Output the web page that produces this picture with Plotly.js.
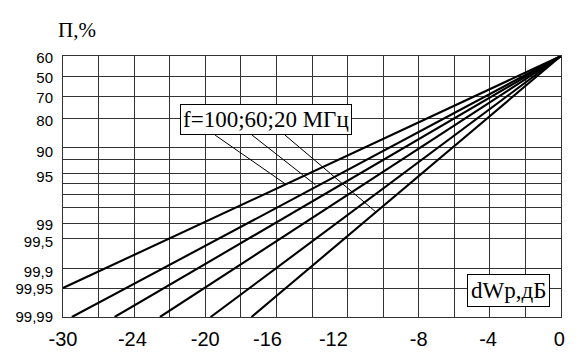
<!DOCTYPE html>
<html>
<head>
<meta charset="utf-8">
<script src="https://cdn.plot.ly/plotly-3.0.1.min.js"></script>
<style>html,body{margin:0;padding:0;background:#fff;}#chart{width:580px;height:364px;}</style>
</head>
<body>
<div id="chart"></div>
<script>
// X axis: grid divisions (units of the drawn scale), labelled ticks
const xGrid = [-28, -26, -24, -22, -20, -18, -16, -14, -12, -10, -8, -6, -4, -2, 0];
const xLabelPos = [-28, -24.1, -20.0, -16.5, -12.8, -8.0, -4.1, -0.1];
const xLabels = ["-30", "-24", "-20", "-16", "-12", "-8", "-4", "0"];

// Y axis: probability-paper scale positions (0 = bottom, 100 = top)
const yGridPos = [100, 92.3, 84.3, 76.2, 64.9, 60.5, 55.0, 51.0, 47.1, 42.0, 35.8, 30.1, 18.4, 11.1, 0];
const yLabelPos = [99.2, 91.6, 83.9, 75.3, 63.2, 53.6, 35.2, 29.0, 17.2, 10.7, 0.2];
const yLabels = ["60", "50", "70", "80", "90", "95", "99", "99,5", "99,9", "99,95", "99,99"];

// Six straight lines starting at (0, top) and fanning out to the left
const startX = 0, startY = 100;
const endX = [-28, -27.5, -25.1, -22.55, -19.7, -17.4];
const endY = [11.1, 0, 0, 0, 0, 0];

// Leader lines from the frequency label to the lines
const leadX0 = [-19.45, -17.37, -15.52];
const leadY0 = [69.7, 69.7, 69.7];
const leadX1 = [-15.5, -13.8, -10.4];
const leadY1 = [51.0, 50.6, 40.2];

const traces = [];
for (let i = 0; i < endX.length; i++) {
  traces.push({
    x: [startX, endX[i]], y: [startY, endY[i]],
    type: 'scatter', mode: 'lines',
    line: {color: '#000', width: 2.1},
    hoverinfo: 'skip', showlegend: false, cliponaxis: true
  });
}
for (let i = 0; i < leadX0.length; i++) {
  traces.push({
    x: [leadX0[i], leadX1[i]], y: [leadY0[i], leadY1[i]],
    xaxis: 'x2', yaxis: 'y2',
    type: 'scatter', mode: 'lines',
    line: {color: '#000', width: 1},
    hoverinfo: 'skip', showlegend: false
  });
}

const gridColor = '#333333';
const layout = {
  width: 580, height: 364,
  margin: {l: 63, r: 19, t: 56, b: 47, pad: 0},
  paper_bgcolor: '#fff', plot_bgcolor: '#fff',
  showlegend: false,
  xaxis: {
    range: [-28, 0], tickmode: 'array', tickvals: xGrid, showticklabels: false,
    showgrid: true, gridcolor: gridColor, gridwidth: 1, zeroline: false,
    showline: true, linecolor: gridColor, linewidth: 1, mirror: true, ticks: ''
  },
  xaxis2: {
    overlaying: 'x', anchor: 'y', side: 'bottom',
    range: [-28, 0], tickmode: 'array', tickvals: xLabelPos, ticktext: xLabels,
    showgrid: false, zeroline: false, showline: false, ticks: '',
    ticklabelstandoff: 8,
    tickfont: {family: '"Liberation Sans", Arial, sans-serif', size: 20, color: '#000'}
  },
  yaxis: {
    range: [0, 100], tickmode: 'array', tickvals: yGridPos, showticklabels: false,
    showgrid: true, gridcolor: gridColor, gridwidth: 1, zeroline: false,
    showline: true, linecolor: gridColor, linewidth: 1, mirror: true, ticks: ''
  },
  yaxis2: {
    overlaying: 'y', anchor: 'x', side: 'left',
    range: [0, 100], tickmode: 'array', tickvals: yLabelPos, ticktext: yLabels,
    showgrid: false, zeroline: false, showline: false, ticks: '',
    ticklabelstandoff: 9,
    tickfont: {family: '"Liberation Sans", Arial, sans-serif', size: 15, color: '#000'}
  },
  annotations: [
    {
      text: 'П,%', xref: 'paper', yref: 'paper', x: 0.028, y: 1.10,
      xanchor: 'center', yanchor: 'middle', showarrow: false,
      font: {family: '"Liberation Serif", "Times New Roman", serif', size: 21, color: '#000'}
    },
    {
      text: 'f=100;60;20 МГц', xref: 'x', yref: 'y', x: -16.6, y: 75.5,
      xanchor: 'center', yanchor: 'middle', showarrow: false,
      bgcolor: '#fff', bordercolor: '#000', borderwidth: 1, borderpad: 2,
      font: {family: '"Liberation Serif", "Times New Roman", serif', size: 23, color: '#000'}
    },
    {
      text: 'dWp,дБ', xref: 'x', yref: 'y', x: -2.95, y: 10.2,
      xanchor: 'center', yanchor: 'middle', showarrow: false,
      bgcolor: '#fff', bordercolor: '#000', borderwidth: 1, borderpad: 3,
      font: {family: '"Liberation Serif", "Times New Roman", serif', size: 23, color: '#000'}
    }
  ]
};

Plotly.newPlot('chart', traces, layout, {displayModeBar: false, staticPlot: true});
</script>
</body>
</html>
